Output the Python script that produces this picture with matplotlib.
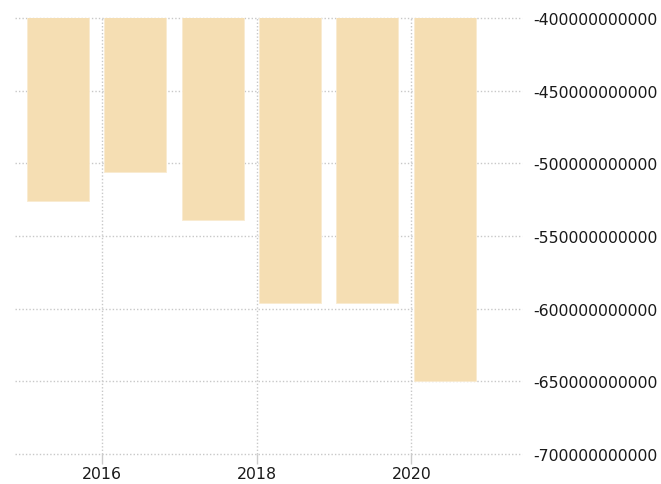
import matplotlib
matplotlib.use('agg')
import matplotlib.pyplot as plt
from matplotlib.ticker import FixedLocator, FormatStrFormatter

# yearly values
years = [2015, 2016, 2017, 2018, 2019, 2020]
values = [-526e9, -506e9, -539e9, -596e9, -596e9, -650e9]
yticks = [-400e9, -450e9, -500e9, -550e9, -600e9, -650e9, -700e9]
xticks = [2016, 2018, 2020]

fig = plt.figure(figsize=(6.61, 4.85), dpi=100)
ax = fig.add_axes([0.0227, 0.062, 0.767, 0.899])

ax.bar([y + 0.03 for y in years], values, width=0.8, align='edge',
       color='#F5DEB3', edgecolor='#FAEBD0', linewidth=0.6, zorder=2)

ax.set_xlim(2014.876, 2021.43)
ax.set_ylim(-700e9, -400e9)

ax.xaxis.set_major_locator(FixedLocator(xticks))
ax.yaxis.set_major_locator(FixedLocator(yticks))
ax.yaxis.set_major_formatter(FormatStrFormatter('%d'))
ax.yaxis.tick_right()

ax.grid(True, color='#c8c8c8', linestyle=(0, (1, 1.5)), linewidth=1.0, zorder=0)
for ln in ax.get_ygridlines() + ax.get_xgridlines():
    ln.set_clip_on(False)
for s in ax.spines.values():
    s.set_visible(False)

ax.tick_params(axis='x', length=7, color='#cccccc', width=1, labelsize=11.3,
               labelcolor='#1a1a1a', pad=2)
ax.tick_params(axis='y', length=0, labelsize=11.3, labelcolor='#1a1a1a', pad=8)

fig.savefig('out.png', dpi=100)
plt.close()
